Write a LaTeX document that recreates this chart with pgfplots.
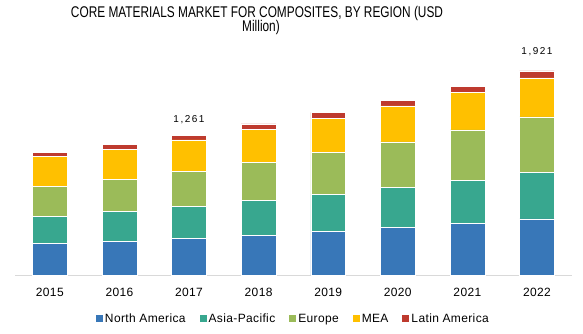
\documentclass[border=0pt]{standalone}
\usepackage{fontspec}
\setmainfont{Liberation Sans}
\newfontfamily\titlefont[FakeStretch=0.765]{Liberation Sans}
\newfontfamily\labelfont[LetterSpace=15]{Liberation Sans}
\newfontfamily\spacedfont[LetterSpace=3]{Liberation Sans}
\usepackage{pgfplots}
\pgfplotsset{compat=1.18}
\definecolor{cNA}{HTML}{3877B8}
\definecolor{cAP}{HTML}{38A78F}
\definecolor{cEU}{HTML}{9BBB59}
\definecolor{cMEA}{HTML}{FFC000}
\definecolor{cLA}{HTML}{BE3A2E}
\begin{document}
\begin{tikzpicture}
\path[use as bounding box] (-15pt,-58pt) rectangle (568pt,275pt);
\begin{axis}[
  at={(0pt,0pt)}, anchor=south west,
  scale only axis,
  x=69.6pt, y=0.10616pt,
  xmin=2014.5, xmax=2022.5,
  ymin=0, ymax=2200,
  ybar stacked,
  bar width=0.5,
  axis x line=bottom,
  axis y line=none,
  axis line style={-, draw=black!15, line width=1pt},
  xtick={2015,...,2022},
  major tick length=0pt,
  ytick=\empty,
  /pgf/number format/1000 sep={},
  /pgf/number format/assume math mode=true,
  xticklabel style={anchor=base, yshift=-21pt, font=\spacedfont\fontsize{12}{14}\selectfont},
  clip=false,
  every axis plot/.append style={draw=white, line width=0.5pt},
  legend columns=5,
  legend style={draw=none, at={(0.5,-0.188)}, anchor=center,
    font=\spacedfont\fontsize{12}{14}\selectfont,
    /tikz/every even column/.append style={column sep=12pt},
    inner sep=0pt},
  legend image code/.code={\fill[#1, draw=none] (0pt,-3.5pt) rectangle (7pt,3.5pt);},
]
\addplot[fill=cNA] coordinates {(2015,295) (2016,317) (2017,346) (2018,374) (2019,408) (2020,449) (2021,487) (2022,528)};
\addplot[fill=cAP] coordinates {(2015,258) (2016,283) (2017,301) (2018,326) (2019,352) (2020,373) (2021,401) (2022,436)};
\addplot[fill=cEU] coordinates {(2015,279) (2016,301) (2017,326) (2018,362) (2019,396) (2020,433) (2021,478) (2022,525)};
\addplot[fill=cMEA] coordinates {(2015,283) (2016,285) (2017,299) (2018,311) (2019,320) (2020,339) (2021,351) (2022,367)};
\addplot[fill=cLA] coordinates {(2015,38) (2016,44) (2017,41) (2018,50) (2019,57) (2020,54) (2021,63) (2022,66)};
\legend{North America, Asia-Pacific, Europe, MEA, Latin America}
\node[font=\labelfont\fontsize{10}{12}\selectfont, anchor=center] at (axis cs:2017,1460) {1,261};
\node[font=\labelfont\fontsize{10}{12}\selectfont, anchor=center] at (axis cs:2022,2103) {1,921};
\end{axis}
\node[font=\titlefont\fontsize{15.5}{17}\selectfont, anchor=base] at (242pt,258pt) {CORE MATERIALS MARKET FOR COMPOSITES, BY REGION (USD};
\node[font=\titlefont\fontsize{15.5}{17}\selectfont, anchor=base] at (246pt,243.5pt) {Million)};
\end{tikzpicture}
\end{document}
